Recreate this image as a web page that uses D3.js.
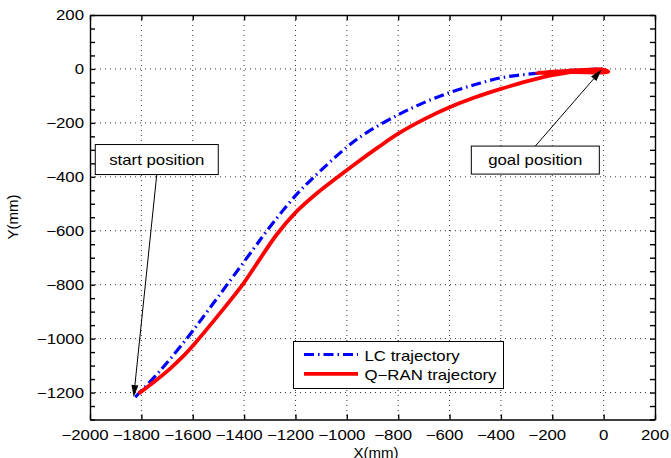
<!DOCTYPE html>
<html>
<head>
<meta charset="utf-8">
<title>Trajectories</title>
<script src="https://d3js.org/d3.v7.min.js"></script>
<style>
body { margin: 0; background: #fff; }
text { font-family: "Liberation Sans", Arial, Helvetica, sans-serif; font-size: 14px; fill: #000; }
.axis path, .axis line { stroke: #000; stroke-width: 1.4; }
.grid line { stroke: #333; stroke-width: 1; stroke-dasharray: 1,4; }
</style>
</head>
<body>
<svg width="671" height="458"></svg>
<script>
// values (mm)
var xTicks = [-2000, -1800, -1600, -1400, -1200, -1000, -800, -600, -400, -200, 0, 200];
var yTicks = [-1200, -1000, -800, -600, -400, -200, 0, 200];

var lcX = [-1824, -1726, -1615, -1540, -1466, -1363, -1311, -1200, -1127, -1000, -921, -800, -700, -600, -500, -400, -300, -200, -100, 0];
var lcY = [-1217, -1118, -990, -895, -800, -667, -600, -470, -400, -290, -235, -170, -125, -88, -58, -33, -20, -11, -4, 0];

var qranX = [-1811, -1750, -1690, -1640, -1590, -1500, -1408, -1340, -1272, -1200, -1120, -1038, -960, -880, -800, -700, -600, -500, -400, -300, -200, -100, 0, 18, -120, -260, -140, 0, 15];
var qranY = [-1204, -1160, -1113, -1068, -1016, -913, -803, -707, -613, -533, -464, -403, -347, -292, -240, -187, -142, -105, -74, -46, -23, -9, -3, -11, -12, -14, -7, -3, -9];

var seriesNames = ["LC trajectory", "Q\u2212RAN trajectory"];
var annoText = ["start position", "goal position"];
var annoAt = [[-1740, -336], [-266, -338]];   // label centre
var annoTip = [[-1830, -1217], [-8, -3]];     // arrow tip

var svg = d3.select("svg");
var L = 90, R = 655, T = 15, B = 419.5;

var x = d3.scaleLinear().domain([-2000, 200]).range([L, R]);
var y = d3.scaleLinear().domain([-1300, 200]).range([B, T]);

function label(g, tx, ty, s, anchor) {
  return g.append("text")
    .attr("transform", "translate(" + tx + "," + ty + ") scale(1.2,1)")
    .attr("text-anchor", anchor || "middle")
    .text(s);
}

// grid
var grid = svg.append("g").attr("class", "grid");
grid.selectAll(".gx").data(xTicks.filter(d => d > -2000 && d < 200)).enter()
  .append("line").attr("x1", d => x(d)).attr("x2", d => x(d)).attr("y1", T).attr("y2", B);
grid.selectAll(".gy").data(yTicks.filter(d => d < 200)).enter()
  .append("line").attr("y1", d => y(d)).attr("y2", d => y(d)).attr("x1", L).attr("x2", R);

// axes (ticks inward, labels drawn separately)
var minorY = d3.range(-1300, 201, 50);
svg.append("g").attr("class", "axis").attr("transform", "translate(0," + B + ")")
  .call(d3.axisBottom(x).tickValues(xTicks).tickSizeInner(-5).tickSizeOuter(0).tickFormat(""));
svg.append("g").attr("class", "axis").attr("transform", "translate(0," + T + ")")
  .call(d3.axisTop(x).tickValues(xTicks).tickSizeInner(-5).tickSizeOuter(0).tickFormat(""));
svg.append("g").attr("class", "axis").attr("transform", "translate(" + L + ",0)")
  .call(d3.axisLeft(y).tickValues(minorY).tickSizeInner(-5).tickSizeOuter(0).tickFormat(""));
svg.append("g").attr("class", "axis").attr("transform", "translate(" + R + ",0)")
  .call(d3.axisRight(y).tickValues(minorY).tickSizeInner(-5).tickSizeOuter(0).tickFormat(""));
svg.selectAll(".axis text").remove();

var fmt = d3.format("d");
var labs = svg.append("g");
xTicks.forEach(d => label(labs, x(d) + (d < 0 ? -5 : 0), B + 20, fmt(d)));
yTicks.forEach(d => label(labs, L - 6, y(d) + 5, fmt(d), "end"));

svg.append("text").attr("text-anchor", "middle")
  .attr("transform", "translate(376,458)").style("font-size", "15px").text("X(mm)");
svg.append("text").attr("text-anchor", "middle")
  .attr("transform", "translate(18,217) rotate(-90)").style("font-size", "15px").text("Y(mm)");

// trajectories
var line = d3.line().curve(d3.curveCatmullRom.alpha(0.5));
svg.append("path")
  .attr("d", line(lcX.map((v, i) => [x(v), y(lcY[i])])))
  .attr("fill", "none").attr("stroke", "#0000ff").attr("stroke-width", 3.2)
  .attr("stroke-dasharray", "10,4,1.5,4");
svg.append("path")
  .attr("d", line(qranX.map((v, i) => [x(v), y(qranY[i])])))
  .attr("fill", "none").attr("stroke", "#ff0000").attr("stroke-width", 3.8)
  .attr("stroke-linejoin", "round");

// annotations
var boxW = [123, 128], boxH = [30, 28];
annoText.forEach((s, i) => {
  var cx = x(annoAt[i][0]), cy = y(annoAt[i][1]);
  var g = svg.append("g");
  g.append("rect").attr("x", cx - boxW[i] / 2).attr("y", cy - boxH[i] / 2)
    .attr("width", boxW[i]).attr("height", boxH[i])
    .attr("fill", "#fff").attr("stroke", "#000").attr("stroke-width", 1);
  label(g, cx, cy + 5, s);
  var tx = x(annoTip[i][0]), ty = y(annoTip[i][1]);
  var sy = ty > cy ? cy + boxH[i] / 2 : cy - boxH[i] / 2;
  var dx = tx - cx, dy = ty - sy, len = Math.hypot(dx, dy);
  var ux = dx / len, uy = dy / len, hl = 12, hw = 3.5;
  g.append("line").attr("x1", cx).attr("y1", sy)
    .attr("x2", tx - ux * hl).attr("y2", ty - uy * hl)
    .attr("stroke", "#000").attr("stroke-width", 1);
  var bx = tx - ux * hl, by = ty - uy * hl;
  g.append("polygon")
    .attr("points", [[tx, ty], [bx - uy * hw, by + ux * hw], [bx + uy * hw, by - ux * hw]].map(p => p.join(",")).join(" "))
    .attr("fill", "#000");
});

// legend
var lg = svg.append("g");
lg.append("rect").attr("x", 293.5).attr("y", 341.5).attr("width", 210).attr("height", 47)
  .attr("fill", "#fff").attr("stroke", "#000").attr("stroke-width", 1);
var styles = [{c: "#0000ff", w: 3.2, dash: "10,4,1.5,4"}, {c: "#ff0000", w: 3.8, dash: null}];
seriesNames.forEach((s, i) => {
  var yy = 354.5 + i * 19.3;
  lg.append("line").attr("x1", 304).attr("x2", 358).attr("y1", yy).attr("y2", yy)
    .attr("stroke", styles[i].c).attr("stroke-width", styles[i].w)
    .attr("stroke-dasharray", styles[i].dash);
  label(lg, 364.5, yy + 6.5, s, "start");
});
</script>
</body>
</html>
